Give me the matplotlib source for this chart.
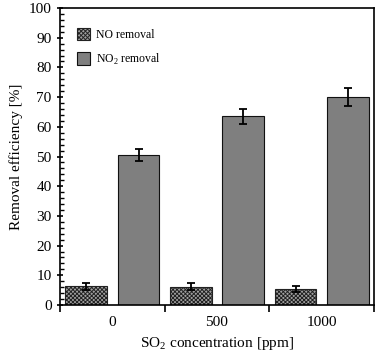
import matplotlib
matplotlib.use("Agg")
import matplotlib.pyplot as plt
import numpy as np
from matplotlib.ticker import MultipleLocator

plt.rcParams["font.family"] = ["Liberation Serif", "DejaVu Serif"]
plt.rcParams["mathtext.fontset"] = "custom"
plt.rcParams["mathtext.rm"] = "Liberation Serif"
plt.rcParams["hatch.color"] = "#2a2a2a"
plt.rcParams["hatch.linewidth"] = 0.7

concentrations = ["0", "500", "1000"]
no_removal = [6.3, 6.2, 5.3]
no_err = [1.1, 1.1, 1.0]
no2_removal = [50.5, 63.5, 70.0]
no2_err = [2.0, 2.5, 3.0]

x = np.arange(len(concentrations))
w = 0.4

fig = plt.figure(figsize=(3.8, 3.56), dpi=100)
ax = fig.add_axes([60 / 380, 51 / 356, 314 / 380, 297 / 356])

ax.bar(x - 0.25, no_removal, w, color="#a0a0a0", edgecolor="#222222",
       linewidth=0.8, hatch="xxxxxxxx", label="NO removal")
ax.bar(x + 0.25, no2_removal, w, color="#7f7f7f", edgecolor="#111111",
       linewidth=0.8, label=r"NO$_\mathrm{2}$ removal")
ax.errorbar(x - 0.25, no_removal, yerr=no_err, fmt="none", ecolor="black",
            elinewidth=1.3, capsize=3, capthick=1.3)
ax.errorbar(x + 0.25, no2_removal, yerr=no2_err, fmt="none", ecolor="black",
            elinewidth=1.3, capsize=3, capthick=1.3)

ax.set_xlim(-0.5, 2.5)
ax.set_ylim(0, 100)
ax.set_xticks(x)
ax.set_xticklabels(concentrations, fontsize=11)
ax.set_xticks([-0.5, 0.5, 1.5, 2.5], minor=True)
ax.tick_params(axis="x", which="major", length=0, pad=8)
ax.tick_params(axis="x", which="minor", length=5, width=1.2, direction="out")

ax.yaxis.set_major_locator(MultipleLocator(10))
ax.yaxis.set_minor_locator(MultipleLocator(2))
ax.tick_params(axis="y", which="major", length=5, width=1.2, direction="inout", labelsize=11)
ax.tick_params(axis="y", which="minor", length=3, width=1.0, direction="in")
ax.tick_params(right=False, top=False)

for s in ax.spines.values():
    s.set_linewidth(1.2)

ax.set_xlabel(r"SO$_\mathrm{2}$ concentration [ppm]", fontsize=11)
ax.set_ylabel("Removal efficiency [%]", fontsize=11)

ax.legend(loc="upper left", bbox_to_anchor=(0.02, 0.97), frameon=False,
          fontsize=8.5, handlelength=1.1, handleheight=1.3, labelspacing=0.9,
          handletextpad=0.5)

fig.savefig("out.png", dpi=100)
